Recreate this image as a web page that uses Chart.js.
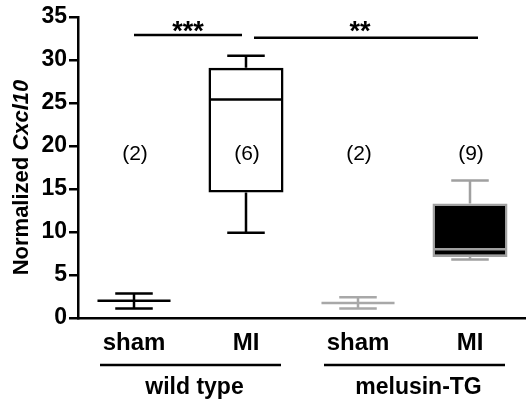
<!DOCTYPE html>
<html>
<head>
<meta charset="utf-8">
<script src="https://cdn.jsdelivr.net/npm/chart.js@4/dist/chart.umd.min.js"></script>
<style>
  html, body { margin: 0; padding: 0; background: #fff; }
  #wrap { width: 526px; height: 406px; }
</style>
</head>
<body>
<div id="wrap"><canvas id="c" width="526" height="406"></canvas></div>
<script>
// ---- data ----
const categories = ['sham', 'MI', 'sham', 'MI'];
const groupNames = ['wild type', 'melusin-TG'];
const groupMembers = [[0, 1], [2, 3]];
const whiskerMin = [1.1, 9.9, 1.1, 6.8];
const boxLow = [2.0, 14.6, 1.75, 7.1];
const medians = [2.0, 25.4, 1.75, 8.0];
const boxHigh = [2.0, 29.1, 1.75, 13.3];
const whiskerMax = [2.85, 30.5, 2.4, 16.0];
const nLabels = ['(2)', '(6)', '(2)', '(9)'];
const nLabelLevel = 19;
const sigPairs = [{ from: 0, to: 1, level: 32.9, text: '***' }, { from: 1, to: 3, level: 32.6, text: '**' }];
const yTickValues = [0, 5, 10, 15, 20, 25, 30, 35];
const yTitleMain = 'Normalized ';
const yTitleGene = 'Cxcl10';

// ---- styles ----
const lineColors = ['#000000', '#000000', '#a8a8a8', '#a0a0a0'];
const boxFill = ['rgba(0,0,0,0)', 'rgba(0,0,0,0)', 'rgba(0,0,0,0)', '#000000'];
const FONT = '"Liberation Sans", Arial, Helvetica, sans-serif';
const BAR_PCT = 0.67;
const LW = 2.5;

const boxData = categories.map((c, i) => boxHigh[i] > boxLow[i] ? [boxLow[i], boxHigh[i]] : null);

const extras = {
  id: 'extras',
  afterDatasetsDraw(chart) {
    const { ctx, scales: { x, y } } = chart;
    const catW = x.width / categories.length;
    const boxW = catW * BAR_PCT;
    const capW = boxW / 2;
    ctx.save();
    ctx.lineWidth = LW;
    ctx.lineCap = 'butt';
    categories.forEach((c, i) => {
      const cx = x.getPixelForValue(i);
      ctx.strokeStyle = lineColors[i];
      const hasBox = boxHigh[i] > boxLow[i];
      const yMin = y.getPixelForValue(whiskerMin[i]);
      const yMax = y.getPixelForValue(whiskerMax[i]);
      const yLo = y.getPixelForValue(boxLow[i]);
      const yHi = y.getPixelForValue(boxHigh[i]);
      const yMed = y.getPixelForValue(medians[i]);
      ctx.beginPath();
      if (hasBox) {
        ctx.moveTo(cx, yHi); ctx.lineTo(cx, yMax);
        ctx.moveTo(cx, yLo); ctx.lineTo(cx, yMin);
      } else {
        ctx.moveTo(cx, yMin); ctx.lineTo(cx, yMax);
      }
      ctx.moveTo(cx - capW / 2, yMax); ctx.lineTo(cx + capW / 2, yMax);
      ctx.moveTo(cx - capW / 2, yMin); ctx.lineTo(cx + capW / 2, yMin);
      ctx.moveTo(cx - boxW / 2 + 1, yMed); ctx.lineTo(cx + boxW / 2 - 1, yMed);
      ctx.stroke();
      // n labels
      ctx.fillStyle = '#000';
      ctx.font = '21px ' + FONT;
      ctx.textAlign = 'center';
      ctx.textBaseline = 'middle';
      ctx.fillText(nLabels[i], cx + 1, y.getPixelForValue(nLabelLevel));
    });
    // significance bars
    ctx.strokeStyle = '#000';
    ctx.lineWidth = LW;
    sigPairs.forEach((p, k) => {
      const x1 = x.getPixelForValue(p.from) + (k === 0 ? 0 : 8);
      const x2 = x.getPixelForValue(p.to) + (k === 0 ? -4 : 8);
      const yy = y.getPixelForValue(p.level);
      ctx.beginPath(); ctx.moveTo(x1, yy); ctx.lineTo(x2, yy); ctx.stroke();
      ctx.fillStyle = '#000';
      ctx.font = 'bold 27px ' + FONT;
      ctx.textAlign = 'center';
      ctx.textBaseline = 'alphabetic';
      ctx.fillText(p.text, (x1 + x2) / 2 + (k === 0 ? 0 : -6), yy + (k === 0 ? 5 : 2));
    });
    // group lines and labels
    groupNames.forEach((g, k) => {
      const m = groupMembers[k];
      const xa = x.getPixelForValue(m[0]) - 34;
      const xb = x.getPixelForValue(m[m.length - 1]) + 35;
      ctx.beginPath(); ctx.moveTo(xa, 365); ctx.lineTo(xb, 365); ctx.stroke();
      ctx.font = 'bold 23px ' + FONT;
      ctx.textAlign = 'center';
      ctx.textBaseline = 'middle';
      ctx.fillText(g, (xa + xb) / 2 + 4, 388);
    });
    // y title
    ctx.translate(22, y.getPixelForValue(17.5) + 10);
    ctx.rotate(-Math.PI / 2);
    ctx.textBaseline = 'middle';
    ctx.textAlign = 'left';
    const f1 = 'bold 22px ' + FONT, f2 = 'italic bold 22px ' + FONT;
    ctx.font = f1; const w1 = ctx.measureText(yTitleMain).width;
    ctx.font = f2; const w2 = ctx.measureText(yTitleGene).width;
    const start = -(w1 + w2) / 2;
    ctx.font = f1; ctx.fillText(yTitleMain, start, 0);
    ctx.font = f2; ctx.fillText(yTitleGene, start + w1, 0);
    ctx.restore();
  }
};

new Chart(document.getElementById('c'), {
  type: 'bar',
  data: {
    labels: categories,
    datasets: [{
      data: boxData,
      backgroundColor: boxFill,
      borderColor: lineColors,
      borderWidth: LW,
      borderSkipped: false,
      barPercentage: BAR_PCT,
      categoryPercentage: 1
    }]
  },
  options: {
    responsive: false,
    animation: false,
    devicePixelRatio: 1,
    layout: { padding: { top: 17, right: 0, left: 0, bottom: 0 } },
    plugins: { legend: { display: false }, tooltip: { enabled: false }, title: { display: false } },
    scales: {
      x: {
        type: 'category',
        offset: true,
        grid: { display: false, drawTicks: false },
        border: { display: true, color: '#000', width: LW },
        ticks: { color: '#000', font: { family: FONT, size: 24, weight: 'bold' }, padding: 11, maxRotation: 0 },
        afterFit(s) { s.height = 88; }
      },
      y: {
        min: 0, max: 35,
        afterBuildTicks(s) { s.ticks = yTickValues.map(v => ({ value: v })); },
        grid: { display: true, drawOnChartArea: false, drawTicks: true, tickLength: 9, color: '#000', lineWidth: LW },
        border: { display: true, color: '#000', width: LW },
        ticks: { color: '#000', font: { family: FONT, size: 23, weight: 'bold' }, padding: 2 },
        afterFit(s) { s.width = 78; }
      }
    }
  },
  plugins: [extras]
});
</script>
</body>
</html>
